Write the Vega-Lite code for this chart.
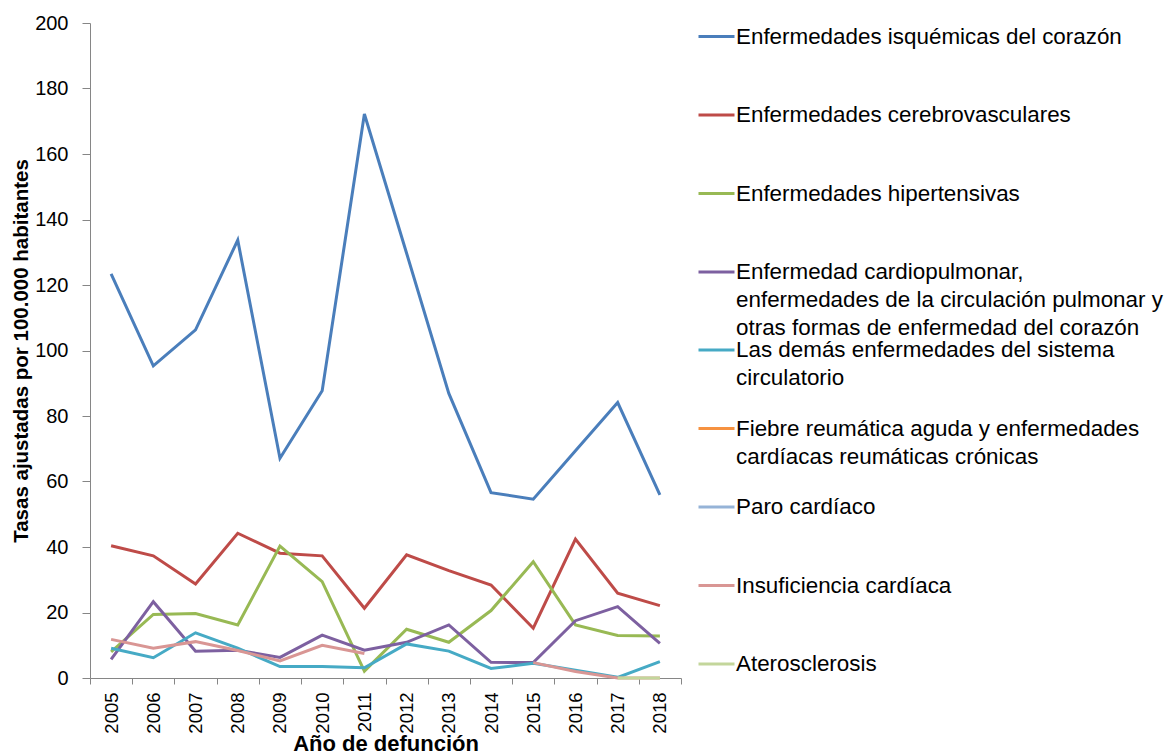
{
  "$schema": "https://vega.github.io/schema/vega-lite/v6.json",
  "width": 591,
  "height": 655,
  "autosize": {"type": "none"},
  "padding": {"left": 90, "top": 23, "right": 491, "bottom": 75},
  "background": "white",
  "config": {
    "view": {"stroke": null},
    "font": "Liberation Sans",
    "style": {"guide-label": {"lineHeight": 28}},
    "legend": {
      "title": null, "orient": "none", "padding": 0,
      "symbolType": "stroke", "symbolSize": 1296, "symbolStrokeWidth": 3,
      "labelFontSize": 22.4, "labelLimit": 600, "labelOffset": 0, "labelColor": "black"
    }
  },
  "data": {"values": [
    {"serie": "Enfermedades isquémicas del corazón", "year": "2005", "value": 123.4},
    {"serie": "Enfermedades isquémicas del corazón", "year": "2006", "value": 95.3},
    {"serie": "Enfermedades isquémicas del corazón", "year": "2007", "value": 106.3},
    {"serie": "Enfermedades isquémicas del corazón", "year": "2008", "value": 133.7},
    {"serie": "Enfermedades isquémicas del corazón", "year": "2009", "value": 67.1},
    {"serie": "Enfermedades isquémicas del corazón", "year": "2010", "value": 87.7},
    {"serie": "Enfermedades isquémicas del corazón", "year": "2011", "value": 172.2},
    {"serie": "Enfermedades isquémicas del corazón", "year": "2012", "value": 129.7},
    {"serie": "Enfermedades isquémicas del corazón", "year": "2013", "value": 86.9},
    {"serie": "Enfermedades isquémicas del corazón", "year": "2014", "value": 56.6},
    {"serie": "Enfermedades isquémicas del corazón", "year": "2015", "value": 54.6},
    {"serie": "Enfermedades isquémicas del corazón", "year": "2016", "value": 69.4},
    {"serie": "Enfermedades isquémicas del corazón", "year": "2017", "value": 84.1},
    {"serie": "Enfermedades isquémicas del corazón", "year": "2018", "value": 55.9},
    {"serie": "Enfermedades cerebrovasculares", "year": "2005", "value": 40.4},
    {"serie": "Enfermedades cerebrovasculares", "year": "2006", "value": 37.3},
    {"serie": "Enfermedades cerebrovasculares", "year": "2007", "value": 28.7},
    {"serie": "Enfermedades cerebrovasculares", "year": "2008", "value": 44.2},
    {"serie": "Enfermedades cerebrovasculares", "year": "2009", "value": 38.1},
    {"serie": "Enfermedades cerebrovasculares", "year": "2010", "value": 37.3},
    {"serie": "Enfermedades cerebrovasculares", "year": "2011", "value": 21.3},
    {"serie": "Enfermedades cerebrovasculares", "year": "2012", "value": 37.6},
    {"serie": "Enfermedades cerebrovasculares", "year": "2013", "value": 32.8},
    {"serie": "Enfermedades cerebrovasculares", "year": "2014", "value": 28.4},
    {"serie": "Enfermedades cerebrovasculares", "year": "2015", "value": 15.2},
    {"serie": "Enfermedades cerebrovasculares", "year": "2016", "value": 42.4},
    {"serie": "Enfermedades cerebrovasculares", "year": "2017", "value": 25.9},
    {"serie": "Enfermedades cerebrovasculares", "year": "2018", "value": 22.1},
    {"serie": "Enfermedades hipertensivas", "year": "2005", "value": 8.0},
    {"serie": "Enfermedades hipertensivas", "year": "2006", "value": 19.4},
    {"serie": "Enfermedades hipertensivas", "year": "2007", "value": 19.7},
    {"serie": "Enfermedades hipertensivas", "year": "2008", "value": 16.2},
    {"serie": "Enfermedades hipertensivas", "year": "2009", "value": 40.3},
    {"serie": "Enfermedades hipertensivas", "year": "2010", "value": 29.4},
    {"serie": "Enfermedades hipertensivas", "year": "2011", "value": 2.1},
    {"serie": "Enfermedades hipertensivas", "year": "2012", "value": 14.9},
    {"serie": "Enfermedades hipertensivas", "year": "2013", "value": 10.9},
    {"serie": "Enfermedades hipertensivas", "year": "2014", "value": 20.6},
    {"serie": "Enfermedades hipertensivas", "year": "2015", "value": 35.5},
    {"serie": "Enfermedades hipertensivas", "year": "2016", "value": 16.2},
    {"serie": "Enfermedades hipertensivas", "year": "2017", "value": 13.0},
    {"serie": "Enfermedades hipertensivas", "year": "2018", "value": 12.8},
    {"serie": "Enfermedad cardiopulmonar, enfermedades de la circulación pulmonar y otras formas de enfermedad del corazón", "year": "2005", "value": 5.7},
    {"serie": "Enfermedad cardiopulmonar, enfermedades de la circulación pulmonar y otras formas de enfermedad del corazón", "year": "2006", "value": 23.3},
    {"serie": "Enfermedad cardiopulmonar, enfermedades de la circulación pulmonar y otras formas de enfermedad del corazón", "year": "2007", "value": 8.2},
    {"serie": "Enfermedad cardiopulmonar, enfermedades de la circulación pulmonar y otras formas de enfermedad del corazón", "year": "2008", "value": 8.5},
    {"serie": "Enfermedad cardiopulmonar, enfermedades de la circulación pulmonar y otras formas de enfermedad del corazón", "year": "2009", "value": 6.3},
    {"serie": "Enfermedad cardiopulmonar, enfermedades de la circulación pulmonar y otras formas de enfermedad del corazón", "year": "2010", "value": 13.1},
    {"serie": "Enfermedad cardiopulmonar, enfermedades de la circulación pulmonar y otras formas de enfermedad del corazón", "year": "2011", "value": 8.5},
    {"serie": "Enfermedad cardiopulmonar, enfermedades de la circulación pulmonar y otras formas de enfermedad del corazón", "year": "2012", "value": 10.9},
    {"serie": "Enfermedad cardiopulmonar, enfermedades de la circulación pulmonar y otras formas de enfermedad del corazón", "year": "2013", "value": 16.2},
    {"serie": "Enfermedad cardiopulmonar, enfermedades de la circulación pulmonar y otras formas de enfermedad del corazón", "year": "2014", "value": 4.8},
    {"serie": "Enfermedad cardiopulmonar, enfermedades de la circulación pulmonar y otras formas de enfermedad del corazón", "year": "2015", "value": 4.7},
    {"serie": "Enfermedad cardiopulmonar, enfermedades de la circulación pulmonar y otras formas de enfermedad del corazón", "year": "2016", "value": 17.5},
    {"serie": "Enfermedad cardiopulmonar, enfermedades de la circulación pulmonar y otras formas de enfermedad del corazón", "year": "2017", "value": 21.8},
    {"serie": "Enfermedad cardiopulmonar, enfermedades de la circulación pulmonar y otras formas de enfermedad del corazón", "year": "2018", "value": 10.6},
    {"serie": "Las demás enfermedades del sistema circulatorio", "year": "2005", "value": 9.1},
    {"serie": "Las demás enfermedades del sistema circulatorio", "year": "2006", "value": 6.2},
    {"serie": "Las demás enfermedades del sistema circulatorio", "year": "2007", "value": 13.8},
    {"serie": "Las demás enfermedades del sistema circulatorio", "year": "2008", "value": 9.1},
    {"serie": "Las demás enfermedades del sistema circulatorio", "year": "2009", "value": 3.5},
    {"serie": "Las demás enfermedades del sistema circulatorio", "year": "2010", "value": 3.5},
    {"serie": "Las demás enfermedades del sistema circulatorio", "year": "2011", "value": 3.1},
    {"serie": "Las demás enfermedades del sistema circulatorio", "year": "2012", "value": 10.4},
    {"serie": "Las demás enfermedades del sistema circulatorio", "year": "2013", "value": 8.2},
    {"serie": "Las demás enfermedades del sistema circulatorio", "year": "2014", "value": 2.9},
    {"serie": "Las demás enfermedades del sistema circulatorio", "year": "2015", "value": 4.5},
    {"serie": "Las demás enfermedades del sistema circulatorio", "year": "2016", "value": 2.4},
    {"serie": "Las demás enfermedades del sistema circulatorio", "year": "2017", "value": 0.2},
    {"serie": "Las demás enfermedades del sistema circulatorio", "year": "2018", "value": 5.0},
    {"serie": "Insuficiencia cardíaca", "year": "2005", "value": 11.8},
    {"serie": "Insuficiencia cardíaca", "year": "2006", "value": 9.1},
    {"serie": "Insuficiencia cardíaca", "year": "2007", "value": 11.1},
    {"serie": "Insuficiencia cardíaca", "year": "2008", "value": 8.4},
    {"serie": "Insuficiencia cardíaca", "year": "2009", "value": 5.2},
    {"serie": "Insuficiencia cardíaca", "year": "2010", "value": 10.0},
    {"serie": "Insuficiencia cardíaca", "year": "2011", "value": 7.5},
    {"serie": "Insuficiencia cardíaca", "year": "2012", "value": null},
    {"serie": "Insuficiencia cardíaca", "year": "2013", "value": null},
    {"serie": "Insuficiencia cardíaca", "year": "2014", "value": null},
    {"serie": "Insuficiencia cardíaca", "year": "2015", "value": 4.7},
    {"serie": "Insuficiencia cardíaca", "year": "2016", "value": 2.0},
    {"serie": "Insuficiencia cardíaca", "year": "2017", "value": 0},
    {"serie": "Insuficiencia cardíaca", "year": "2018", "value": 0},
    {"serie": "Aterosclerosis", "year": "2017", "value": 0},
    {"serie": "Aterosclerosis", "year": "2018", "value": 0}
  ]},
  "encoding": {
    "x": {
      "field": "year", "type": "ordinal",
      "scale": {"type": "band", "paddingInner": 0, "paddingOuter": 0},
      "axis": {
        "title": "Año de defunción", "labelAngle": -90, "labelFontSize": 18.5,
        "titleFontSize": 22, "titleFontWeight": "bold", "titleColor": "black",
        "labelColor": "black", "domainColor": "#868686", "tickColor": "#868686",
        "tickSize": 6, "labelPadding": 8, "tickBand": "extent", "grid": false, "titlePadding": 0
      }
    },
    "y": {
      "field": "value", "type": "quantitative",
      "scale": {"domain": [0, 200], "nice": false},
      "axis": {
        "title": "Tasas ajustadas por 100.000 habitantes",
        "values": [0, 20, 40, 60, 80, 100, 120, 140, 160, 180, 200],
        "labelFontSize": 20, "titleFontSize": 20.5, "titleFontWeight": "bold",
        "titleColor": "black", "labelColor": "black",
        "domainColor": "#868686", "tickColor": "#868686",
        "tickSize": 8, "labelPadding": 14, "grid": false, "titlePadding": 3
      }
    }
  },
  "layer": [
    {
      "transform": [{"filter": {"field": "serie", "oneOf": [
        "Enfermedades isquémicas del corazón",
        "Enfermedades cerebrovasculares",
        "Enfermedades hipertensivas",
        "Enfermedad cardiopulmonar, enfermedades de la circulación pulmonar y otras formas de enfermedad del corazón"
      ]}}],
      "mark": {"type": "line", "strokeWidth": 3, "invalid": "break-paths-filter-domains"},
      "encoding": {
        "color": {
          "field": "serie", "type": "nominal",
          "scale": {
            "domain": [
              "Enfermedades isquémicas del corazón",
              "Enfermedades cerebrovasculares",
              "Enfermedades hipertensivas",
              "Enfermedad cardiopulmonar, enfermedades de la circulación pulmonar y otras formas de enfermedad del corazón"
            ],
            "range": ["#4A7EBB", "#BE4B48", "#98B954", "#7D60A0"]
          },
          "legend": {
            "legendX": 607, "legendY": -6, "rowPadding": 47.5,
            "labelExpr": "datum.label == 'Enfermedad cardiopulmonar, enfermedades de la circulación pulmonar y otras formas de enfermedad del corazón' ? ['Enfermedad cardiopulmonar,', 'enfermedades de la circulación pulmonar y', 'otras formas de enfermedad del corazón'] : datum.label"
          }
        }
      }
    },
    {
      "transform": [{"filter": {"field": "serie", "oneOf": [
        "Las demás enfermedades del sistema circulatorio",
        "Fiebre reumática aguda y enfermedades cardíacas reumáticas crónicas",
        "Paro cardíaco",
        "Insuficiencia cardíaca",
        "Aterosclerosis"
      ]}}],
      "mark": {"type": "line", "strokeWidth": 3, "invalid": "break-paths-filter-domains"},
      "encoding": {
        "color": {
          "field": "serie", "type": "nominal",
          "scale": {
            "domain": [
              "Las demás enfermedades del sistema circulatorio",
              "Fiebre reumática aguda y enfermedades cardíacas reumáticas crónicas",
              "Paro cardíaco",
              "Insuficiencia cardíaca",
              "Aterosclerosis"
            ],
            "range": ["#46AAC5", "#F69240", "#95B3D7", "#D99694", "#C3D69B"]
          },
          "legend": {
            "legendX": 607, "legendY": 307.6, "rowPadding": 19.5,
            "labelExpr": "datum.label == 'Las demás enfermedades del sistema circulatorio' ? ['Las demás enfermedades del sistema', 'circulatorio'] : datum.label == 'Fiebre reumática aguda y enfermedades cardíacas reumáticas crónicas' ? ['Fiebre reumática aguda y enfermedades', 'cardíacas reumáticas crónicas'] : datum.label == 'Aterosclerosis' ? datum.label : [datum.label, '']"
          }
        }
      }
    }
  ],
  "resolve": {"scale": {"color": "independent"}}
}
